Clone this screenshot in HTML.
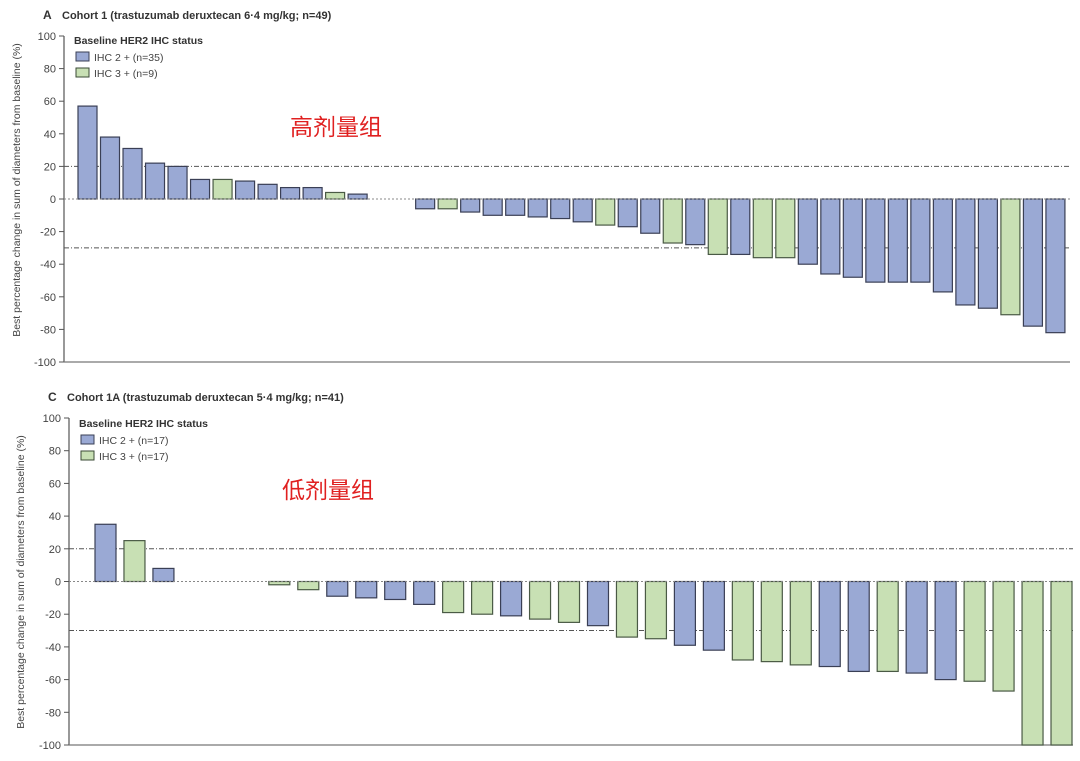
<!DOCTYPE html>
<html><head><meta charset="utf-8"><style>
html,body{margin:0;padding:0;background:#fff;width:1080px;height:761px;overflow:hidden}
svg{display:block}
text{font-family:"Liberation Sans","Noto Sans CJK SC",sans-serif}
</style></head><body>
<svg id="s" width="1080" height="761" xmlns="http://www.w3.org/2000/svg">
<g id="bars"></g>
<!-- Panel A -->
<text x="43" y="19" font-size="12" font-weight="bold" fill="#333">A</text>
<text x="62" y="19" font-size="11" font-weight="bold" fill="#333">Cohort 1 (trastuzumab deruxtecan 6·4 mg/kg; n=49)</text>
<text x="74" y="44" font-size="10.5" font-weight="bold" fill="#333">Baseline HER2 IHC status</text>
<rect x="76" y="52" width="13" height="9" fill="#9aa9d4" stroke="#3a3f55"/>
<text x="94" y="61" font-size="10.5" fill="#444">IHC 2 + (n=35)</text>
<rect x="76" y="68" width="13" height="9" fill="#c8e0b4" stroke="#3a4a35"/>
<text x="94" y="77" font-size="10.5" fill="#444">IHC 3 + (n=9)</text>
<text x="290" y="135" font-size="23" fill="#e02020">高剂量组</text>
<text transform="translate(20,190) rotate(-90)" text-anchor="middle" font-size="10.5" fill="#444">Best percentage change in sum of diameters from baseline (%)</text>
<!-- Panel C -->
<text x="48" y="401" font-size="12" font-weight="bold" fill="#333">C</text>
<text x="67" y="401" font-size="11" font-weight="bold" fill="#333">Cohort 1A (trastuzumab deruxtecan 5·4 mg/kg; n=41)</text>
<text x="79" y="427" font-size="10.5" font-weight="bold" fill="#333">Baseline HER2 IHC status</text>
<rect x="81" y="435" width="13" height="9" fill="#9aa9d4" stroke="#3a3f55"/>
<text x="99" y="444" font-size="10.5" fill="#444">IHC 2 + (n=17)</text>
<rect x="81" y="451" width="13" height="9" fill="#c8e0b4" stroke="#3a4a35"/>
<text x="99" y="460" font-size="10.5" fill="#444">IHC 3 + (n=17)</text>
<text x="282" y="498" font-size="23" fill="#e02020">低剂量组</text>
<text transform="translate(24,582) rotate(-90)" text-anchor="middle" font-size="10.5" fill="#444">Best percentage change in sum of diameters from baseline (%)</text>
</svg>
<script>
var NS="http://www.w3.org/2000/svg",g=document.getElementById('bars');
function el(t,a){var e=document.createElementNS(NS,t);for(var k in a)e.setAttribute(k,a[k]);g.appendChild(e);return e;}
function panel(ax,ytop,ybot,x0,pitch,w,data,xend){
  var z=(ytop+ybot)/2,sc=(ybot-ytop)/200;
  // ticks
  for(var v=100;v>=-100;v-=20){var y=z-v*sc;
    el('line',{x1:ax-5,x2:ax,y1:y,y2:y,stroke:'#555','stroke-width':1});
    var t=el('text',{x:ax-8,y:y+4,'font-size':11,'text-anchor':'end',fill:'#444'});t.textContent=v;}
  el('line',{x1:ax,x2:ax,y1:ytop,y2:ybot,stroke:'#555','stroke-width':1.2});
  el('line',{x1:ax,x2:xend,y1:ybot,y2:ybot,stroke:'#777','stroke-width':1.2});
  el('line',{x1:ax,x2:xend,y1:z-20*sc,y2:z-20*sc,stroke:'#555','stroke-width':1,'stroke-dasharray':'5,2,1,2'});
  el('line',{x1:ax,x2:xend,y1:z+30*sc,y2:z+30*sc,stroke:'#555','stroke-width':1,'stroke-dasharray':'5,2,1,2'});
  data.forEach(function(d,i){if(!d)return;var v=d[0],c=d[1],x=x0+pitch*i;
    var y=v>0?z-v*sc:z,h=Math.abs(v)*sc;
    el('rect',{x:x,y:y,width:w,height:h,fill:c=='B'?'#9aa9d4':'#c8e0b4',stroke:c=='B'?'#3a3f55':'#4a5a45','stroke-width':1.2});});
  el('line',{x1:ax,x2:xend,y1:z,y2:z,stroke:'#888','stroke-width':1,'stroke-dasharray':'2,2'});
}
var A=[[57,'B'],[38,'B'],[31,'B'],[22,'B'],[20,'B'],[12,'B'],[12,'G'],[11,'B'],[9,'B'],[7,'B'],[7,'B'],[4,'G'],[3,'B'],null,null,
[-6,'B'],[-6,'G'],[-8,'B'],[-10,'B'],[-10,'B'],[-11,'B'],[-12,'B'],[-14,'B'],[-16,'G'],[-17,'B'],[-21,'B'],[-27,'G'],[-28,'B'],[-34,'G'],[-34,'B'],[-36,'G'],[-36,'G'],[-40,'B'],[-46,'B'],[-48,'B'],[-51,'B'],[-51,'B'],[-51,'B'],[-57,'B'],[-65,'B'],[-67,'B'],[-71,'G'],[-78,'B'],[-82,'B']];
panel(64,36,362,78,22.51,19,A,1070);
var C=[[35,'B'],[25,'G'],[8,'B'],null,null,null,[-2,'G'],[-5,'G'],[-9,'B'],[-10,'B'],[-11,'B'],[-14,'B'],[-19,'G'],[-20,'G'],[-21,'B'],[-23,'G'],[-25,'G'],[-27,'B'],[-34,'G'],[-35,'G'],[-39,'B'],[-42,'B'],[-48,'G'],[-49,'G'],[-51,'G'],[-52,'B'],[-55,'B'],[-55,'G'],[-56,'B'],[-60,'B'],[-61,'G'],[-67,'G'],[-100,'G'],[-100,'G']];
panel(69,418,745,95,28.97,21,C,1073);
</script>
</body></html>
